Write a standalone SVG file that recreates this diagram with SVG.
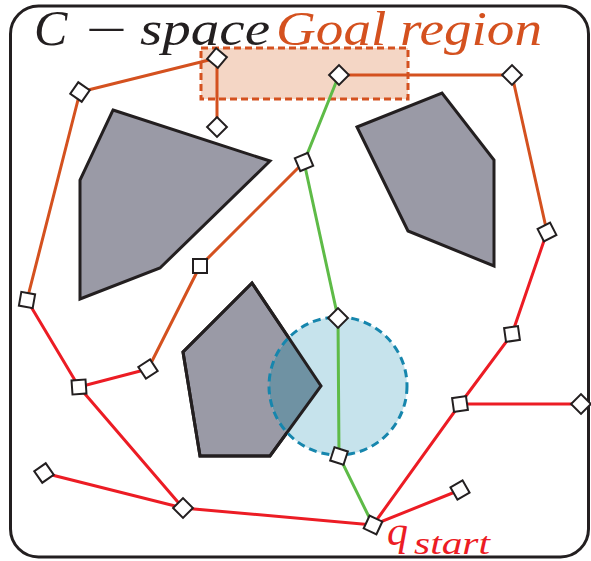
<svg xmlns="http://www.w3.org/2000/svg" width="591" height="561" viewBox="0 0 591 561">
<style>
.frame{fill:#fff;stroke:#231f20;stroke-width:3}
.obs{fill:#9a9aa6;stroke:#231f20;stroke-width:3;stroke-linejoin:miter}
.or{stroke:#d4511f;stroke-width:3;fill:none}
.rd{stroke:#ec1c24;stroke-width:3;fill:none}
.gr{stroke:#5ebb47;stroke-width:3;fill:none}
.nd{fill:#fff;stroke:#231f20;stroke-width:2}
</style>
<defs>
<rect id="n" x="-7" y="-7" width="14" height="14"/>
<clipPath id="cc"><circle cx="338" cy="386" r="69"/></clipPath>
</defs>
<rect class="frame" x="10.5" y="6" width="578" height="551" rx="28"/>
<g id="title" font-family="Liberation Serif, serif">
<text x="34" y="45" font-size="50" font-style="italic" fill="#231f20">C</text>
<text transform="translate(86,45) scale(1.6,1)" font-size="46" fill="#231f20">−</text>
<text x="140" y="45" font-size="48" font-style="italic" fill="#231f20" textLength="130" lengthAdjust="spacingAndGlyphs">space</text>
<text x="276" y="45" font-size="48" font-style="italic" fill="#d4511f" textLength="266" lengthAdjust="spacingAndGlyphs">Goal region</text>
</g>
<g id="goal">
<rect x="201" y="48" width="207" height="51" fill="#f4d6c5" stroke="#d4511f" stroke-width="3" stroke-dasharray="7,4"/>
</g>
<g id="obstacles">
<polygon id="obs1" class="obs" points="113,110 270,161 160,268 80,299 80,180"/>
<polygon id="obs2" class="obs" points="357,127 442,93 494,160 494,266 408,231"/>
<polygon id="obs3" class="obs" points="252,283 321,386 270,456 200,456 183,352"/>
</g>
<g id="ball">
<circle cx="338" cy="386" r="69" fill="#c6e3ec"/>
<polygon points="252,283 321,386 270,456 200,456 183,352" fill="#6f92a3" clip-path="url(#cc)"/>
<polygon points="252,283 321,386 270,456 200,456 183,352" fill="none" stroke="#231f20" stroke-width="3"/>
<circle cx="338" cy="386" r="69" fill="none" stroke="#1686ad" stroke-width="3" stroke-dasharray="8,5"/>
</g>
<g id="connectors">
<path class="or" d="M217,58 L80,92 M217,58 L217,127 M80,92 L27,300 M339,75 L512,75 M512,75 L547,232 M304,162 L200,266 L148,369"/>
<path class="rd" d="M27,300 L79,387 L148,369 M79,387 L183,508 M44,473 L183,508 L373,525 L460,490 M373,525 L460,404 L581,404 M460,404 L512,334 L547,232"/>
<path class="gr" d="M339,75 L304,162 L338,318 L339,456 L373,525"/>
</g>
<g id="nodes">
<use id="n1" href="#n" class="nd" transform="translate(217,58) rotate(40)"/>
<use id="n2" href="#n" class="nd" transform="translate(80,92) rotate(35)"/>
<use id="n3" href="#n" class="nd" transform="translate(217,127) rotate(45)"/>
<use id="n4" href="#n" class="nd" transform="translate(339,75) rotate(45)"/>
<use id="n5" href="#n" class="nd" transform="translate(512,75) rotate(45)"/>
<use id="n6" href="#n" class="nd" transform="translate(304,162) rotate(-23)"/>
<use id="n7" href="#n" class="nd" transform="translate(547,232) rotate(-27)"/>
<use id="n8" href="#n" class="nd" transform="translate(200,266)"/>
<use id="n9" href="#n" class="nd" transform="translate(27,300) rotate(10)"/>
<use id="n10" href="#n" class="nd" transform="translate(338,318) rotate(45)"/>
<use id="n11" href="#n" class="nd" transform="translate(512,334) rotate(-8)"/>
<use id="n12" href="#n" class="nd" transform="translate(148,369) rotate(-33)"/>
<use id="n13" href="#n" class="nd" transform="translate(79,387) rotate(-4)"/>
<use id="n14" href="#n" class="nd" transform="translate(460,404) rotate(-8)"/>
<use id="n15" href="#n" class="nd" transform="translate(581,404) rotate(45)"/>
<use id="n16" href="#n" class="nd" transform="translate(339,456) rotate(18)"/>
<use id="n17" href="#n" class="nd" transform="translate(44,473) rotate(-35)"/>
<use id="n18" href="#n" class="nd" transform="translate(460,490) rotate(-30)"/>
<use id="n19" href="#n" class="nd" transform="translate(183,508) rotate(45)"/>
<use id="n20" href="#n" class="nd" transform="translate(373,525) rotate(25)"/>
</g>
<g id="qstart" font-family="Liberation Serif, serif" font-style="italic" fill="#ec1c24">
<text x="387" y="545" font-size="42">q</text>
<text x="414" y="554" font-size="32" textLength="76" lengthAdjust="spacingAndGlyphs">start</text>
</g>
</svg>
